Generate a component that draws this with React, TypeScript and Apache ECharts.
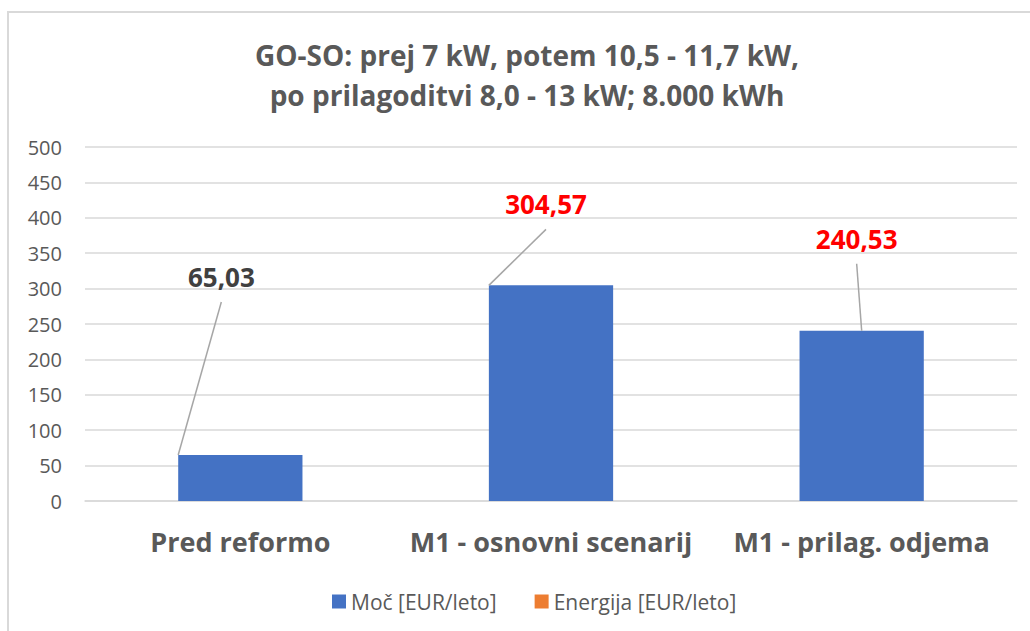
import React, { useEffect, useRef } from "react";
import * as echarts from "echarts";

const titleLines = ["GO-SO: prej 7 kW, potem 10,5 - 11,7 kW,", "po prilagoditvi 8,0 - 13 kW; 8.000 kWh"];
const categories = ["Pred reformo", "M1 - osnovni scenarij", "M1 - prilag. odjema"];
const mocValues = [65.03, 304.57, 240.53];
const energijaValues = [0, 0, 0];
const seriesNames = ["Moč [EUR/leto]", "Energija [EUR/leto]"];
const yTicks = { min: 0, max: 500, interval: 50 };

// styling for labels / leader lines (pixel offsets, colours)
const labelColors = ["#404040", "#FF0000", "#FF0000"];
const labelOffsets: [number, number][] = [[-19, -160], [-5, -63], [-5, -74]];
const lineAnchors = [-1, -1, 0];

const FONT = "'Open Sans', 'Noto Sans', sans-serif";

const fmt = (v: number) => v.toFixed(2).replace(".", ",");

export default function App() {
  const ref = useRef<HTMLDivElement>(null);
  useEffect(() => {
    if (!ref.current) return;
    const chart = echarts.init(ref.current, null, { renderer: "svg" });
    const option: any = {
      animation: false,
      backgroundColor: "#ffffff",
      textStyle: { fontFamily: FONT },
      title: {
        text: titleLines.join("\n"),
        left: 527,
        textAlign: "center",
        top: 35,
        padding: 0,
        textStyle: { fontFamily: FONT, fontSize: 28, fontWeight: "bold", color: "#595959", lineHeight: 40 },
      },
      legend: {
        bottom: 14,
        left: 327,
        itemWidth: 14,
        itemHeight: 14,
        itemGap: 38,
        icon: "rect",
        textStyle: { fontFamily: FONT, fontSize: 21, color: "#595959" },
        data: seriesNames,
      },
      grid: { left: 85, right: 13, top: 147, bottom: 130 },
      xAxis: {
        type: "category",
        data: categories,
        axisLine: { show: true, lineStyle: { color: "#D9D9D9", width: 1.5 } },
        axisTick: { show: false },
        axisLabel: { interval: 0, fontFamily: FONT, fontSize: 27, fontWeight: "bold", color: "#595959", margin: 27 },
      },
      yAxis: {
        type: "value",
        min: yTicks.min,
        max: yTicks.max,
        interval: yTicks.interval,
        axisLine: { show: false },
        axisTick: { show: false },
        axisLabel: { fontFamily: FONT, fontSize: 20, color: "#595959", margin: 23 },
        splitLine: { lineStyle: { color: "#D9D9D9", width: 1.5 } },
      },
      series: [
        {
          name: seriesNames[0],
          type: "bar",
          stack: "total",
          barWidth: "40%",
          itemStyle: { color: "#4472C4" },
          data: mocValues.map((v, i) => ({
            value: v,
            label: { color: labelColors[i], offset: labelOffsets[i] },
          })),
          label: {
            show: true,
            position: "top",
            distance: 5,
            fontFamily: FONT,
            fontSize: 26,
            fontWeight: "bold",
            formatter: (p: any) => fmt(p.value),
          },
        },
        {
          name: seriesNames[1],
          type: "bar",
          stack: "total",
          barWidth: "40%",
          itemStyle: { color: "#ED7D31" },
          data: energijaValues,
        },
      ],
    };
    chart.setOption(option);

    const p0 = chart.convertToPixel({ xAxisIndex: 0 }, 0) as number;
    const p1 = chart.convertToPixel({ xAxisIndex: 0 }, 1) as number;
    const half = Math.abs(p1 - p0) * 0.2;
    const lines = mocValues.map((v, i) => {
      const [cx, top] = chart.convertToPixel({ seriesIndex: 0 }, [i, v]) as number[];
      const lx = cx + labelOffsets[i][0];
      const ly = top - 5 - 13 + labelOffsets[i][1] + 25;
      return {
        type: "line",
        silent: true,
        z: 10,
        shape: { x1: cx + lineAnchors[i] * half, y1: top, x2: lx, y2: ly },
        style: { stroke: "#A6A6A6", lineWidth: 1.5 },
      };
    });
    chart.setOption({
      graphic: [
        {
          type: "rect",
          silent: true,
          shape: { x: 8, y: 12, width: 1100, height: 700 },
          style: { fill: "none", stroke: "#D9D9D9", lineWidth: 2 },
        },
        ...lines,
      ],
    });

    return () => chart.dispose();
  }, []);
  return (
    <div
      ref={ref}
      style={{ position: "absolute", left: 0, top: 0, width: 1030, height: 631 }}
    />
  );
}
